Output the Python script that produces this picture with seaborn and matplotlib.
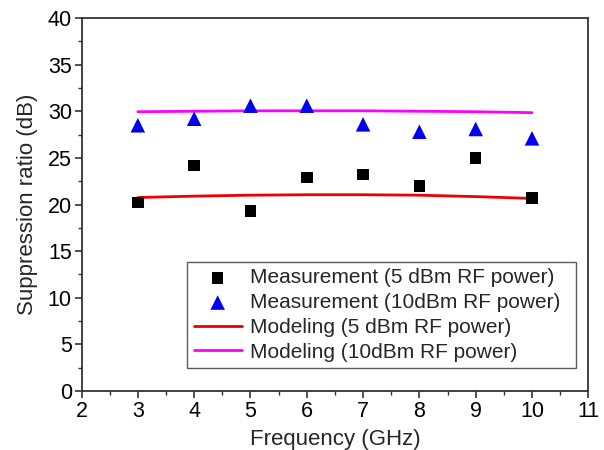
import numpy as np
import pandas as pd
import matplotlib
matplotlib.use('Agg')
import matplotlib.pyplot as plt
import seaborn as sns
from matplotlib.ticker import MultipleLocator

# Data
freq = [3, 4, 5, 6, 7, 8, 9, 10]
meas_5dbm = [20.2, 24.2, 19.3, 22.9, 23.2, 22.0, 25.0, 20.7]
meas_10dbm = [28.5, 29.2, 30.6, 30.6, 28.6, 27.8, 28.1, 27.1]
model_5dbm = [20.75, 20.9, 21.0, 21.05, 21.05, 21.0, 20.85, 20.65]
model_10dbm = [29.95, 30.0, 30.05, 30.05, 30.05, 30.0, 29.95, 29.85]

sns.set_style('ticks')
plt.rcParams['font.family'] = ['Liberation Sans', 'DejaVu Sans']

fig = plt.figure(figsize=(6.04, 4.5), dpi=100)
ax = fig.add_axes([0.135, 0.131, 0.839, 0.829])

df = pd.DataFrame({'freq': freq, 'm5': meas_5dbm, 'm10': meas_10dbm,
                   'p5': model_5dbm, 'p10': model_10dbm})

sns.scatterplot(data=df, x='freq', y='m5', marker='s', color='black', s=70,
                edgecolor='none', label='Measurement (5 dBm RF power)', ax=ax, zorder=3)
sns.scatterplot(data=df, x='freq', y='m10', marker='^', color='#0000ee', s=110,
                edgecolor='none', label='Measurement (10dBm RF power)', ax=ax, zorder=3)
sns.lineplot(data=df, x='freq', y='p5', color='#ee0000', lw=2,
             label='Modeling (5 dBm RF power)', ax=ax, zorder=2)
sns.lineplot(data=df, x='freq', y='p10', color='#ff00ff', lw=2,
             label='Modeling (10dBm RF power)', ax=ax, zorder=2)

ax.set_xlim(2, 11)
ax.set_ylim(0, 40)
ax.xaxis.set_major_locator(MultipleLocator(1))
ax.xaxis.set_minor_locator(MultipleLocator(0.5))
ax.yaxis.set_major_locator(MultipleLocator(5))
ax.yaxis.set_minor_locator(MultipleLocator(2.5))
ax.tick_params(which='major', length=5, width=1.2, labelsize=15.5, colors='#333333',
               labelcolor='black', direction='out', pad=2)
ax.tick_params(which='minor', length=3, width=1.0, colors='#333333', direction='out')
for sp in ax.spines.values():
    sp.set_visible(True)
    sp.set_color('#333333')
    sp.set_linewidth(1.3)

ax.set_xlabel('Frequency (GHz)', fontsize=16, labelpad=5)
ax.set_ylabel('Suppression ratio (dB)', fontsize=16, labelpad=7)

leg = ax.legend(loc='lower left', bbox_to_anchor=(0.209, 0.062, 0.766, 0.28),
                mode='expand', fontsize=15, frameon=True, fancybox=False,
                handlelength=2.3, handletextpad=0.4, borderpad=0.3,
                labelspacing=0.28, borderaxespad=0)
leg.get_frame().set_edgecolor('#333333')
leg.get_frame().set_linewidth(1.0)

fig.savefig('out.png', dpi=100)
